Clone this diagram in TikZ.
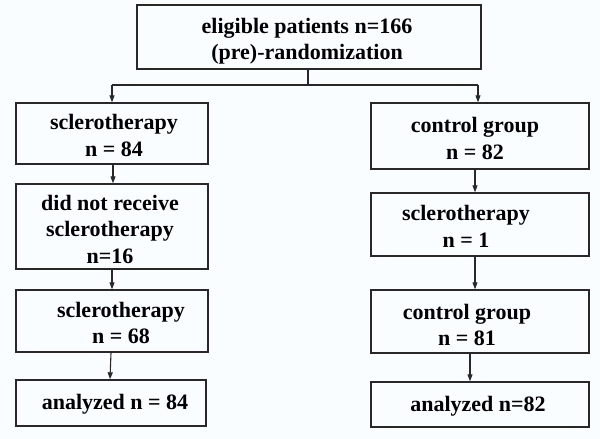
\documentclass[tikz,border=0pt]{standalone}
\usepackage{fontspec}
\setmainfont{Liberation Serif}
\newfontfamily\tnrfont{Liberation Serif}
\usetikzlibrary{arrows.meta}
\definecolor{bgc}{RGB}{250,253,255}
\definecolor{lnc}{RGB}{40,40,40}
\begin{document}
\begin{tikzpicture}[x=1pt,y=-1pt,
  box/.style={draw=lnc, line width=1.4pt, inner sep=0pt},
  txt/.style={font=\tnrfont\bfseries\fontsize{22}{26.5}\selectfont, align=center, text=black, inner sep=0pt},
  conn/.style={draw=lnc, line width=1.1pt},
  arr/.style={draw=lnc, line width=1.1pt, -{Triangle[length=7pt,width=5pt]}}]
\fill[bgc] (0,0) rectangle (600,439);
\useasboundingbox (0,0) rectangle (600,439);
% boxes
\node[box, minimum width=344pt, minimum height=64pt] (top) at (309,37) {};
\node[box, minimum width=192pt, minimum height=61pt] (l1) at (112,133.5) {};
\node[box, minimum width=192pt, minimum height=85pt] (l2) at (112,226.5) {};
\node[box, minimum width=192pt, minimum height=62pt] (l3) at (112,321) {};
\node[box, minimum width=190pt, minimum height=46pt] (l4) at (111,403) {};
\node[box, minimum width=218pt, minimum height=66pt] (r1) at (480,136) {};
\node[box, minimum width=218pt, minimum height=63pt] (r2) at (480,224.5) {};
\node[box, minimum width=218pt, minimum height=63pt] (r3) at (480,321.5) {};
\node[box, minimum width=218pt, minimum height=45pt] (r4) at (480,404.5) {};
% texts
\node[txt] (ttop) at (307,41) {eligible patients n=166\\(pre)-randomization};
\node[txt] (tl1) at (114,135.5) {sclerotherapy\\n = 84};
\node[txt] (tl2) at (110,229) {did not receive\\sclerotherapy\\n=16};
\node[txt] (tl3) at (121,323) {sclerotherapy\\n = 68};
\node[txt] (tl4) at (115,404) {analyzed n = 84};
\node[txt] (tr1) at (475,138.5) {control group\\n = 82};
\node[txt] (tr2) at (466,226.5) {sclerotherapy\\n = 1};
\node[txt] (tr3) at (467,325) {control group\\n = 81};
\node[txt] (tr4) at (478,406) {analyzed n=82};
% connectors
\coordinate (split) at (308,85);
\coordinate (sl) at (112,85);
\coordinate (sr) at (478,85);
\draw[conn] ([xshift=-1pt]top.south) -- (split);
\draw[conn] (sl) -- (sr);
\draw[arr] (sl) -- (sl |- l1.north);
\draw[arr] (sr) -- (sr |- r1.north);
\draw[arr] ([xshift=1pt]l1.south) -- ([xshift=1pt]l2.north);
\draw[arr] (l1.south |- l2.south) -- (l3.north);
\draw[arr] ([xshift=-1pt]l3.south) -- ([xshift=-1pt]l4.north);
\draw[arr] ([xshift=-5pt]r1.south) -- ([xshift=-5pt]r2.north);
\draw[arr] ([xshift=-5pt]r2.south) -- ([xshift=-5pt]r3.north);
\draw[arr] ([xshift=-10pt]r3.south) -- ([xshift=-10pt]r4.north);
\end{tikzpicture}
\end{document}
